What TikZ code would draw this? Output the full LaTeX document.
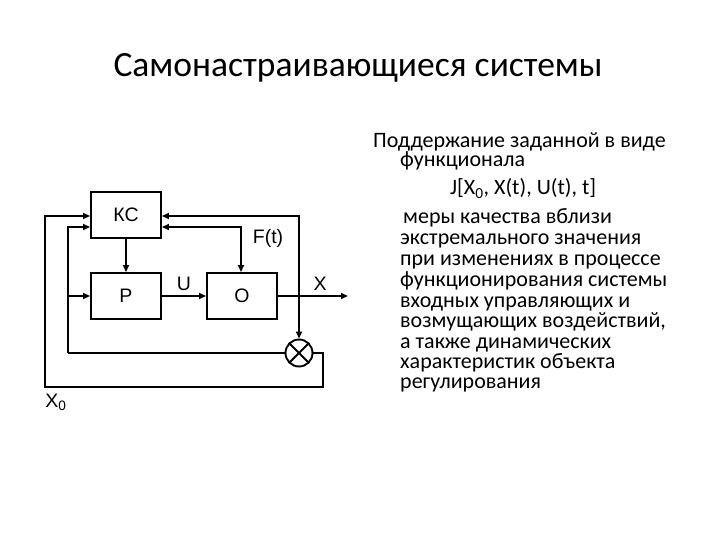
\documentclass[tikz,border=0pt]{standalone}
\usepackage{fontspec}
\setmainfont{Carlito}
\newfontfamily\arialf{Liberation Sans}
\usetikzlibrary{arrows.meta}
\begin{document}
\begin{tikzpicture}[x=1pt,y=-1pt,
  blk/.style={draw,line width=1.9pt,minimum width=70pt,minimum height=46pt,inner sep=0pt,font=\arialf\fontsize{19.5}{22}\selectfont},
  wire/.style={line width=1.9pt,-{Triangle[length=7pt,width=6pt]}},
  wire2/.style={line width=1.9pt,{Triangle[length=7pt,width=6pt]}-{Triangle[length=7pt,width=6pt]}},
  plain/.style={line width=1.9pt},
  lbl/.style={font=\arialf\fontsize{19.5}{22}\selectfont,inner sep=0pt},
  txt/.style={anchor=base west,inner sep=0pt,font=\fontsize{22}{26}\selectfont}]
\useasboundingbox (0,0) rectangle (720,540);
\node[inner sep=0pt,font=\fontsize{35.5}{40}\selectfont] (title) at (358,68) {Самонастраивающиеся системы};
% blocks
\node[blk] (kc) at (126,215) {КС};
\node[blk] (p) at (126,296) {Р};
\node[blk] (o) at (242,296) {О};
\node[draw,circle,line width=1.9pt,minimum size=27pt,inner sep=0pt] (s) at (299,353) {};
\draw[plain] (s.45) -- (s.225) (s.135) -- (s.315);
% coordinates
\coordinate (out) at (348,296);
\coordinate (c1) at (45,387);
\coordinate (c2) at (323,387);
\coordinate (c3) at (68,353);
% connections
\draw[wire] (kc) -- (p);
\draw[wire] (p) -- (o);
\draw[wire] (o) -- (out);
\draw[wire2] (kc.east |- 0,216) -| (s.north);
\draw[wire2] (kc.east |- 0,227) -| (o.north -| 241,0);
\draw[wire] (s.east) -| (c2) -- (c1) |- (kc.west |- 0,216);
\draw[plain] (s.west) -- (c3);
\draw[wire] (c3) |- (kc.west |- 0,227);
\draw[wire] (c3 |- p) -- (p.west);
% labels
\node[lbl] (lu) at (184,284) {U};
\node[lbl] (lx) at (320,284) {X};
\node[lbl] (lf) at (268,238) {F(t)};
\node[lbl] (lx0) at (56,402) {X\textsubscript{0}};
% text
\node[txt] (t1) at (373,148) {Поддержание заданной в виде};
\node[txt] (t2) at (400,167) {функционала};
\node[txt] (t3) at (450,195) {J[X\textsubscript{0}, X(t), U(t), t]};
\node[txt] (t4) at (403,223) {меры качества вблизи};
\node[txt] (t5) at (400,244) {экстремального значения};
\node[txt] (t6) at (400,265) {при изменениях в процессе};
\node[txt] (t7) at (400,286) {функционирования системы};
\node[txt] (t8) at (400,307) {входных управляющих и};
\node[txt] (t9) at (400,327) {возмущающих воздействий,};
\node[txt] (t10) at (400,348) {а также динамических};
\node[txt] (t11) at (400,368) {характеристик объекта};
\node[txt] (t12) at (400,388) {регулирования};
\end{tikzpicture}
\end{document}
